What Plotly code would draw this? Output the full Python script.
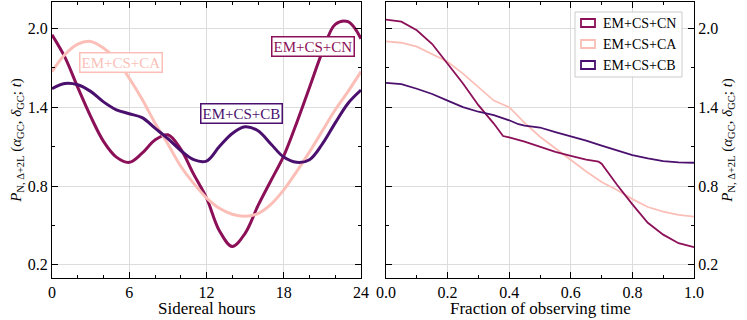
import plotly.graph_objects as go

# Sidereal-hour curves (left panel)
hours = list(range(25))
cn_hours = [1.95, 1.78, 1.55, 1.33, 1.14, 1.02, 0.98, 1.05, 1.15, 1.19, 1.08, 0.89, 0.71,
            0.46, 0.34, 0.44, 0.65, 0.84, 1.03, 1.28, 1.55, 1.82, 2.03, 2.05, 1.92]
ca_hours = [1.67, 1.80, 1.88, 1.90, 1.85, 1.76, 1.62, 1.46, 1.28, 1.12, 0.95, 0.82, 0.71,
            0.63, 0.585, 0.57, 0.59, 0.66, 0.77, 0.91, 1.06, 1.22, 1.38, 1.52, 1.67]
cb_hours = [1.54, 1.58, 1.57, 1.52, 1.44, 1.38, 1.35, 1.32, 1.24, 1.16, 1.07, 1.00, 0.99,
            1.10, 1.20, 1.25, 1.22, 1.12, 1.02, 0.98, 1.00, 1.12, 1.28, 1.43, 1.53]

# Fraction of observing time (right panel)
cn_frac_x = [0, 0.05, 0.1, 0.15, 0.2, 0.25, 0.3, 0.35, 0.38, 0.4, 0.45, 0.5, 0.55, 0.6, 0.65,
             0.69, 0.7, 0.75, 0.8, 0.85, 0.9, 0.95, 1.0]
cn_frac = [2.066, 2.05, 1.985, 1.88, 1.73, 1.58, 1.415, 1.275, 1.18, 1.17, 1.137, 1.10, 1.06,
           1.03, 1.0, 0.985, 0.97, 0.81, 0.66, 0.52, 0.43, 0.365, 0.334]
ca_frac_x = [0, 0.05, 0.1, 0.15, 0.2, 0.25, 0.3, 0.35, 0.4, 0.45, 0.5, 0.55, 0.6, 0.65, 0.7,
             0.75, 0.8, 0.85, 0.9, 0.95, 1.0]
ca_frac = [1.90, 1.89, 1.86, 1.80, 1.745, 1.655, 1.55, 1.45, 1.40, 1.28, 1.175, 1.086, 1.0,
           0.91, 0.83, 0.77, 0.70, 0.64, 0.605, 0.58, 0.567]
cb_frac_x = [0, 0.05, 0.1, 0.15, 0.2, 0.25, 0.3, 0.35, 0.4, 0.43, 0.45, 0.5, 0.55, 0.6, 0.65,
             0.7, 0.75, 0.8, 0.85, 0.9, 0.95, 1.0]
cb_frac = [1.585, 1.575, 1.54, 1.50, 1.45, 1.40, 1.365, 1.34, 1.30, 1.27, 1.26, 1.245, 1.21,
           1.18, 1.145, 1.107, 1.073, 1.035, 1.01, 0.99, 0.98, 0.977]

names = ['EM+CS+CN', 'EM+CS+CA', 'EM+CS+CB']
colors = ['#8c1058', '#fbbfb8', '#4b0f6e']

FONT = 'Liberation Serif'
W, H = 747, 320
ML, MT, MB = 0, 2, 42
ph = H - MT - MB
left_dom = [52 / W, 361 / W]
right_dom = [386 / W, 694 / W]

fig = go.Figure()

left = [cn_hours, ca_hours, cb_hours]
right = [(cn_frac_x, cn_frac), (ca_frac_x, ca_frac), (cb_frac_x, cb_frac)]
for name, col, ys in zip(names, colors, left):
    fig.add_trace(go.Scatter(x=hours, y=ys, mode='lines', name=name, showlegend=False,
                             line=dict(color=col, width=3, shape='spline', smoothing=1.0),
                             xaxis='x', yaxis='y'))
# draw pink first on the right so others sit on top
for i in [1, 0, 2]:
    fx, fy = right[i]
    fig.add_trace(go.Scatter(x=fx, y=fy, mode='lines', name=names[i], showlegend=False,
                             line=dict(color=colors[i], width=1.8),
                             xaxis='x2', yaxis='y2'))

axis_common = dict(showline=True, linecolor='black', linewidth=1, mirror='allticks',
                   ticks='inside', ticklen=6, tickcolor='black', tickwidth=1,
                   showgrid=True, gridcolor='#dcdcdc', gridwidth=1, zeroline=False,
                   automargin=False,
                   tickfont=dict(family=FONT, size=16, color='black'))

ytitle = ('<i>P</i><sub>N, Δ+2L</sub> (<i>α</i><sub>GC</sub>, '
          '<i>δ</i><sub>GC</sub>; <i>t</i>)')

fig.update_layout(
    width=W, height=H,
    margin=dict(l=ML, r=0, t=MT, b=MB),
    plot_bgcolor='white', paper_bgcolor='white',
    font=dict(family=FONT, size=15, color='black'),
    xaxis=dict(domain=left_dom, range=[0, 24], dtick=6, tick0=0,
               minor=dict(dtick=2, tick0=0, ticks='inside', ticklen=3, tickcolor='black',
                          showgrid=False),
               anchor='y', **axis_common),
    yaxis=dict(range=[0.1, 2.2], dtick=0.6, tick0=0.2, tickformat='.1f',
               title=dict(text=ytitle, font=dict(family=FONT, size=15), standoff=2),
               minor=dict(dtick=0.3, tick0=0.2, ticks='inside', ticklen=3, tickcolor='black',
                          showgrid=False),
               anchor='x', **axis_common),
    xaxis2=dict(domain=right_dom, range=[0, 1], dtick=0.2, tick0=0, tickformat='.1f',
                minor=dict(dtick=0.1, tick0=0, ticks='inside', ticklen=3, tickcolor='black',
                           showgrid=False),
                anchor='y2', **axis_common),
    yaxis2=dict(range=[0.1, 2.2], dtick=0.6, tick0=0.2, tickformat='.1f', side='right',
                title=dict(text=ytitle, font=dict(family=FONT, size=15), standoff=4),
                minor=dict(dtick=0.3, tick0=0.2, ticks='inside', ticklen=3, tickcolor='black',
                           showgrid=False),
                anchor='x2', **axis_common),
)


def px_x(v):
    return v / W


def px_y(v):
    return (H - MB - v) / ph


# x-axis titles placed as annotations so they sit close under the tick labels
for dom, txt in [(left_dom, 'Sidereal hours'), (right_dom, 'Fraction of observing time')]:
    fig.add_annotation(x=(dom[0] + dom[1]) / 2, y=px_y(308), xref='paper', yref='paper',
                       text=txt, showarrow=False, xanchor='center', yanchor='middle',
                       font=dict(family=FONT, size=17, color='black'))

# inline curve labels on the left panel
label_pos = [(20.3, 1.863), (5.38, 1.74), (14.74, 1.355)]
for name, col, (lx, ly) in zip(names, colors, label_pos):
    fig.add_annotation(x=lx, y=ly, xref='x', yref='y', text=name, showarrow=False,
                       font=dict(family=FONT, size=15, color=col),
                       bgcolor='white', bordercolor=col, borderwidth=1.5, borderpad=1)

# hand-made legend with open rectangles, like the original
fig.add_shape(type='rect', xref='paper', yref='paper',
              x0=px_x(575), x1=px_x(682), y0=px_y(77), y1=px_y(12),
              line=dict(color='#cccccc', width=1), fillcolor='rgba(255,255,255,0.85)')
for i, (name, col) in enumerate(zip(names, colors)):
    cy = 23 + 21 * i
    fig.add_shape(type='rect', xref='paper', yref='paper',
                  x0=px_x(581), x1=px_x(595), y0=px_y(cy + 4), y1=px_y(cy - 4),
                  line=dict(color=col, width=1.8), fillcolor='rgba(0,0,0,0)')
    fig.add_annotation(x=px_x(601), y=px_y(cy), xref='paper', yref='paper', text=name,
                       showarrow=False, xanchor='left', yanchor='middle',
                       font=dict(family=FONT, size=14, color='black'))

# the page body has a default margin; drop it so the figure sits at the window edge
fig.write_html("out.html", config={'displayModeBar': False},
               post_script="document.body.style.margin='0';")
